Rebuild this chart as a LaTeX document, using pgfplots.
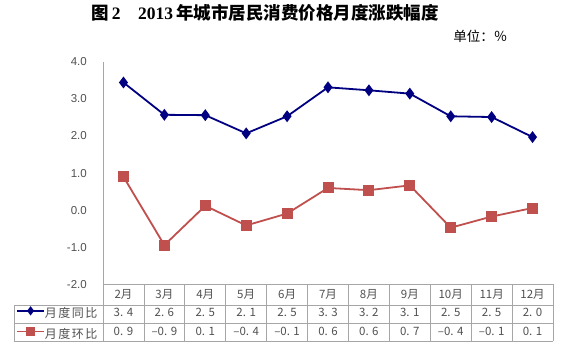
\documentclass[border=0pt]{standalone}
\usepackage{pgfplots}
\pgfplotsset{compat=1.18}
\usepackage{pgfplotstable}
\usepackage{fontspec}
\setmainfont{Liberation Sans}
\newfontfamily\cjk{Noto Sans CJK SC}
\newfontfamily\cjkls{Noto Sans CJK SC}[LetterSpace=12]
\newfontfamily\tnr{Liberation Serif}
\definecolor{bluel}{HTML}{000080}
\definecolor{redl}{HTML}{C0504D}
\definecolor{gridc}{HTML}{A6A6A6}
\definecolor{txt}{HTML}{505050}
\pgfplotstableread{
x yoy mom
1 3.44 0.90
2 2.57 -0.94
3 2.56 0.12
4 2.07 -0.41
5 2.53 -0.09
6 3.31 0.60
7 3.23 0.54
8 3.14 0.67
9 2.53 -0.47
10 2.51 -0.17
11 1.97 0.06
}\data
\newcommand\dg[2]{#1.\hspace{0.3em}#2}
\begin{document}
\begin{tikzpicture}[x=1pt,y=1pt]
\useasboundingbox (0,0) rectangle (565,353);
\node[anchor=center] at (265,340) {\fontsize{17.5}{19}\selectfont{\cjk\bfseries 图}{\tnr\bfseries\,2\quad 2013\,}{\cjk\bfseries 年城市居民消费价格月度涨跌幅度}};
\node[anchor=east] at (511,316.5) {\cjk\fontsize{13.5}{15}\selectfont 单位：％};
\begin{axis}[
  at={(103pt,68.5pt)}, anchor=south west,
  scale only axis, width=450pt, height=222.8pt,
  xmin=0.5, xmax=11.5, ymin=-2, ymax=4,
  axis x line*=bottom, axis y line*=left,
  axis line style={gridc, line width=0.8pt},
  every inner x axis line/.append style={-},
  every inner y axis line/.append style={-},
  ytick={-2,-1,0,1,2,3,4},
  yticklabel style={/pgf/number format/fixed, /pgf/number format/fixed zerofill, /pgf/number format/precision=1, /pgf/number format/assume math mode=true},
  yticklabel style={font=\fontsize{11.5}{12}\selectfont, text=txt, inner sep=0pt, xshift=-16pt},
  major tick length=0pt,
  xtick={1,...,11},
  xticklabels={{2月\\\dg34\\\dg09},{3月\\\dg26\\–\dg09},{4月\\\dg25\\\dg01},{5月\\\dg21\\–\dg04},{6月\\\dg25\\–\dg01},{7月\\\dg33\\\dg06},{8月\\\dg32\\\dg06},{9月\\\dg31\\\dg07},{10月\\\dg25\\–\dg04},{11月\\\dg25\\–\dg01},{12月\\\dg20\\\dg01}},
  xticklabel style={align=center, anchor=north, inner sep=0pt, yshift=-4.5pt, text=txt, font=\cjk\fontsize{11.5}{18.7}\selectfont},
  clip=false,
  legend style={at={(axis description cs:0,0)}, anchor=north west, xshift=-87pt, yshift=-23pt,
    draw=none, fill=none, inner sep=0pt, row sep=9pt,
    font=\cjkls\fontsize{12}{13}\selectfont, text=txt,
    nodes={inner sep=0pt, text height=8pt, text depth=2pt}},
  legend cell align=left,
  legend image code/.code={\draw[mark repeat=2,mark phase=2,#1, mark options={solid,scale=0.7}] plot coordinates {(0pt,3.5pt) (13.5pt,3.5pt) (27pt,3.5pt)};},
  /tikz/every even column/.append style={column sep=3pt},
]
\addplot[bluel, line width=1.8pt, mark=diamond*, mark size=4.5pt, mark options={solid}] table[x=x,y=yoy]{\data};
\addlegendentry{月度同比}
\addplot[redl, line width=1.8pt, mark=square*, mark size=4.6pt, mark options={solid}] table[x=x,y=mom]{\data};
\addlegendentry{月度环比}
\foreach \i in {0,...,11} {
  \edef\tmp{\noexpand\draw[gridc, line width=0.8pt] (axis cs:{0.5+\i},-2) -- ++(0pt,-57pt);}\tmp
}
\end{axis}
\draw[gridc, line width=0.8pt] (14,48) -- (553,48);
\draw[gridc, line width=0.8pt] (14,30) -- (553,30);
\draw[gridc, line width=0.8pt] (14,11.5) -- (553,11.5);
\draw[gridc, line width=0.8pt] (14,48) -- (14,11.5);
\end{tikzpicture}
\end{document}
